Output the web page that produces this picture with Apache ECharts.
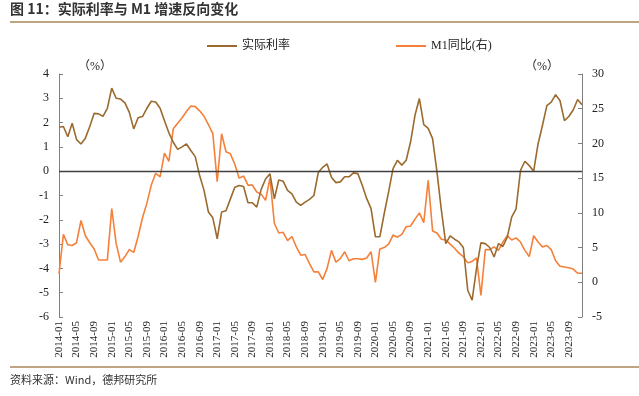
<!DOCTYPE html>
<html>
<head>
<meta charset="utf-8">
<style>
html, body { margin: 0; padding: 0; background: #fff; }
#chart { width: 639px; height: 396px; }
</style>
<script src="https://cdn.jsdelivr.net/npm/echarts@6/dist/echarts.min.js"></script>
</head>
<body>
<div id="chart"></div>
<script>
// 月份 2014-01 ~ 2023-12
const months = []
for (let y = 2014; y <= 2023; y++) {
  for (let m = 1; m <= 12; m++) {
    months.push(y + '-' + (m < 10 ? '0' + m : m))
  }
}

// 实际利率（左轴，%）
const realRate = [
  1.81, 1.84, 1.42, 1.97, 1.30, 1.12, 1.36, 1.84, 2.38, 2.36, 2.26, 2.59,
  3.42, 3.00, 2.97, 2.81, 2.42, 1.74, 2.20, 2.25, 2.59, 2.88, 2.85, 2.59,
  2.08, 1.58, 1.19, 0.90, 1.00, 1.12, 0.85, 0.60, -0.18, -0.79, -1.68, -1.92,
  -2.78, -1.68, -1.63, -1.14, -0.66, -0.59, -0.63, -1.30, -1.30, -1.48, -0.75, -0.32,
  -0.11, -1.14, -0.36, -0.41, -0.79, -0.93, -1.27, -1.41, -1.27, -1.16, -1.00, -0.05,
  0.16, 0.30, -0.25, -0.47, -0.44, -0.23, -0.23, -0.07, -0.10, -0.58, -1.12, -1.54,
  -2.70, -2.70, -1.74, -0.85, 0.11, 0.45, 0.25, 0.45, 1.21, 2.30, 2.99, 1.92,
  1.76, 1.34, -0.03, -1.60, -2.98, -2.66, -2.80, -2.91, -3.14, -4.90, -5.31, -4.00,
  -2.95, -2.98, -3.14, -3.53, -2.98, -3.10, -2.71, -1.89, -1.55, 0.03, 0.41, 0.23,
  0.00, 1.12, 1.88, 2.70, 2.84, 3.15, 2.90, 2.08, 2.25, 2.52, 2.95, 2.73
]

// M1同比（右轴，%）
const m1Yoy = [
  1.2, 6.9, 5.4, 5.3, 5.7, 8.9, 6.7, 5.7, 4.8, 3.2, 3.2, 3.2,
  10.6, 5.6, 2.9, 3.7, 4.7, 4.3, 6.6, 9.3, 11.4, 14.0, 15.7, 15.2,
  18.6, 17.4, 22.1, 22.9, 23.7, 24.6, 25.4, 25.3, 24.7, 23.9, 22.7, 21.4,
  14.5, 21.4, 18.8, 18.5, 17.0, 15.0, 15.3, 14.0, 14.0, 13.0, 12.7, 11.8,
  15.0, 8.5, 7.1, 7.2, 6.0, 6.6, 5.1, 3.9, 4.0, 2.7, 1.5, 1.5,
  0.4, 2.0, 4.6, 2.9, 3.4, 4.4, 3.1, 3.4, 3.4, 3.3, 3.5, 4.4,
  0.0, 4.8, 5.0, 5.5, 6.8, 6.5, 6.9, 8.0, 8.1, 9.1, 10.0, 8.6,
  14.7, 7.4, 7.1, 6.2, 6.1, 5.5, 4.9, 4.2, 3.7, 2.8, 3.0, 3.5,
  -1.9, 4.7, 4.7, 5.1, 4.6, 5.8, 6.7, 6.1, 6.4, 5.8, 4.6, 3.7,
  6.7, 5.8, 5.1, 5.3, 4.7, 3.1, 2.3, 2.2, 2.1, 1.9, 1.3, 1.3
]

const serif = '"Liberation Serif", "Times New Roman", "Noto Sans CJK SC", serif'
const cjk = '"Noto Sans CJK SC", sans-serif'
const ruleColor = '#A9865A'

const myChart = echarts.init(document.getElementById('chart'))
myChart.setOption({
  animation: false,
  backgroundColor: '#fff',
  textStyle: { fontFamily: serif },
  grid: { left: 59, right: 57, top: 74, bottom: 79 },
  legend: {
    left: 202,
    top: 35,
    itemGap: 106,
    icon: 'rect',
    itemWidth: 30,
    itemHeight: 2,
    textStyle: { fontFamily: serif, fontSize: 12, color: '#222' },
    data: ['实际利率', 'M1同比(右)']
  },
  graphic: [
    {
      type: 'text', left: 10, top: 2,
      style: { text: '图 11：实际利率与 M1 增速反向变化', font: 'bold 14px ' + cjk, fill: '#333' }
    },
    {
      type: 'line', shape: { x1: 10, y1: 22, x2: 639, y2: 22 },
      style: { stroke: ruleColor, lineWidth: 1.5 }
    },
    {
      type: 'text', left: 78, top: 61,
      style: { text: '（%）', font: '12px ' + serif, fill: '#222' }
    },
    {
      type: 'text', left: 525, top: 61,
      style: { text: '（%）', font: '12px ' + serif, fill: '#222' }
    },
    {
      type: 'line', shape: { x1: 10, y1: 367, x2: 639, y2: 367 },
      style: { stroke: ruleColor, lineWidth: 1.5 }
    },
    {
      type: 'text', left: 10, top: 374,
      style: { text: '资料来源：Wind，德邦研究所', font: '11px ' + cjk, fill: '#333' }
    }
  ],
  xAxis: {
    type: 'category',
    boundaryGap: false,
    data: months,
    axisLine: { show: false },
    axisTick: { show: false },
    axisLabel: {
      interval: 3,
      rotate: 90,
      margin: 4,
      fontSize: 11,
      color: '#222',
      fontFamily: serif
    },
    splitLine: { show: false }
  },
  yAxis: [
    {
      type: 'value',
      min: -6,
      max: 4,
      interval: 1,
      axisLine: { show: true, lineStyle: { color: '#808080' } },
      axisTick: { show: true, inside: true, length: 4, lineStyle: { color: '#808080' } },
      axisLabel: { fontSize: 12, color: '#222', margin: 10, fontFamily: serif },
      splitLine: { show: false }
    },
    {
      type: 'value',
      min: -5,
      max: 30,
      interval: 5,
      axisLine: { show: true, lineStyle: { color: '#808080' } },
      axisTick: { show: true, inside: true, length: 4, lineStyle: { color: '#808080' } },
      axisLabel: { fontSize: 12, color: '#222', margin: 10, fontFamily: serif },
      splitLine: { show: false }
    }
  ],
  series: [
    {
      name: '实际利率',
      type: 'line',
      yAxisIndex: 0,
      data: realRate,
      showSymbol: false,
      symbol: 'none',
      color: '#9B6A2E',
      lineStyle: { width: 1.6, color: '#9B6A2E' },
      z: 3,
      markLine: {
        silent: true,
        symbol: 'none',
        label: { show: false },
        lineStyle: { color: '#404040', type: 'solid', width: 1.3 },
        data: [{ yAxis: 0 }]
      }
    },
    {
      name: 'M1同比(右)',
      type: 'line',
      yAxisIndex: 1,
      data: m1Yoy,
      showSymbol: false,
      symbol: 'none',
      color: '#F4803A',
      lineStyle: { width: 1.6, color: '#F4803A' },
      z: 2
    }
  ]
})
</script>
</body>
</html>
